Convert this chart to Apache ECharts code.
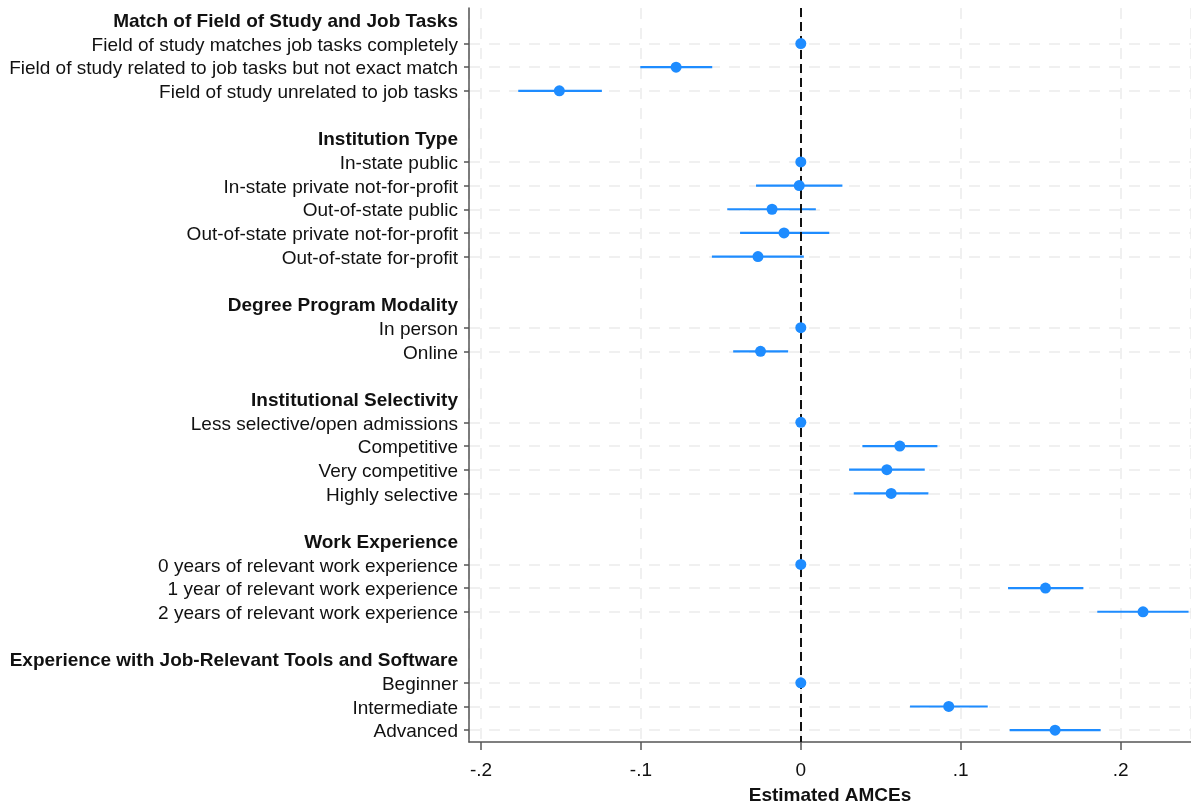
<!DOCTYPE html>
<html lang="en">
<head>
    <meta charset="UTF-8">
    <title>Estimated AMCEs</title>
    <script src="https://cdn.jsdelivr.net/npm/echarts@6/dist/echarts.min.js"></script>
    <style>
        html, body { margin: 0; padding: 0; background: #fff; }
    </style>
</head>
<body>
<div id="main" style="width: 1191px;height: 805px"></div>
<script>
    // rows top to bottom; '' rows are spacers between groups
    var categories = [
        'Match of Field of Study and Job Tasks',
        'Field of study matches job tasks completely',
        'Field of study related to job tasks but not exact match',
        'Field of study unrelated to job tasks',
        '',
        'Institution Type',
        'In-state public',
        'In-state private not-for-profit',
        'Out-of-state public',
        'Out-of-state private not-for-profit',
        'Out-of-state for-profit',
        '',
        'Degree Program Modality',
        'In person',
        'Online',
        '',
        'Institutional Selectivity',
        'Less selective/open admissions',
        'Competitive',
        'Very competitive',
        'Highly selective',
        '',
        'Work Experience',
        '0 years of relevant work experience',
        '1 year of relevant work experience',
        '2 years of relevant work experience',
        '',
        'Experience with Job-Relevant Tools and Software',
        'Beginner',
        'Intermediate',
        'Advanced'
    ];
    var headers = [
        'Match of Field of Study and Job Tasks',
        'Institution Type',
        'Degree Program Modality',
        'Institutional Selectivity',
        'Work Experience',
        'Experience with Job-Relevant Tools and Software'
    ];
    // point estimates and 95% CI, aligned with categories (null = no mark)
    var estimates = [
        null, 0, -0.078, -0.151,
        null,
        null, 0, -0.001, -0.018, -0.0105, -0.0268,
        null,
        null, 0, -0.0252,
        null,
        null, 0, 0.0619, 0.0538, 0.0565,
        null,
        null, 0, 0.153, 0.214,
        null,
        null, 0, 0.0925, 0.159
    ];
    var ciLow = [
        null, null, -0.1004, -0.1767,
        null,
        null, null, -0.028, -0.046, -0.038, -0.0556,
        null,
        null, null, -0.0423,
        null,
        null, null, 0.0385, 0.0302, 0.0331,
        null,
        null, null, 0.1296, 0.1854,
        null,
        null, null, 0.0683, 0.1306
    ];
    var ciHigh = [
        null, null, -0.0554, -0.1244,
        null,
        null, null, 0.026, 0.0094, 0.0178, 0.0019,
        null,
        null, null, -0.0079,
        null,
        null, null, 0.0854, 0.0775, 0.0798,
        null,
        null, null, 0.1767, 0.2425,
        null,
        null, null, 0.1169, 0.1875
    ];

    var pointData = [], barData = [];
    for (var i = 0; i < categories.length; i++) {
        if (estimates[i] !== null) pointData.push([estimates[i], i]);
        if (ciLow[i] !== null) barData.push([ciLow[i], ciHigh[i], i]);
    }
    function isItem(index) {
        var c = categories[index];
        return c !== '' && headers.indexOf(c) < 0;
    }

    var font = "'Liberation Sans', Arial, sans-serif";
    var blue = '#1e8cff';
    var gridLine = { color: '#ececec', width: 1.5, type: [11, 9] };

    var myChart = echarts.init(document.getElementById('main'));
    var option = {
        animation: false,
        textStyle: { fontFamily: font },
        grid: { left: 469, right: 0, top: 8, bottom: 63, containLabel: false, outerBoundsMode: 'none' },
        xAxis: {
            type: 'value',
            min: -0.2075,
            max: 0.244,
            splitNumber: 5,
            name: 'Estimated AMCEs',
            nameLocation: 'middle',
            nameGap: 44,
            nameTextStyle: { fontFamily: font, fontSize: 19, fontWeight: 'bold', color: '#111' },
            axisLine: { show: true, onZero: false, lineStyle: { color: '#555', width: 1.5 } },
            axisTick: { show: true, length: 8, lineStyle: { color: '#555', width: 1.5 } },
            axisLabel: {
                fontFamily: font, fontSize: 19, color: '#111', margin: 19,
                showMinLabel: false, showMaxLabel: false,
                formatter: function (v) {
                    var r = Math.round(v * 10) / 10;
                    if (Math.abs(v - r) > 1e-6) return '';
                    if (r === 0) return '0';
                    return r.toFixed(1).replace('0.', '.');
                }
            },
            splitLine: { show: true, lineStyle: gridLine }
        },
        yAxis: {
            type: 'category',
            inverse: true,
            boundaryGap: true,
            data: categories,
            axisLine: { show: true, onZero: false, lineStyle: { color: '#555', width: 1.5 } },
            axisTick: {
                show: true, alignWithLabel: true, length: 5,
                interval: function (index) { return isItem(index); },
                lineStyle: { color: '#555', width: 1.5 }
            },
            axisLabel: {
                interval: 0, margin: 11, padding: [4, 0, 0, 0],
                fontFamily: font, fontSize: 19, color: '#111',
                formatter: function (v) {
                    if (headers.indexOf(v) >= 0) return '{h|' + v + '}';
                    return v;
                },
                rich: { h: { fontFamily: font, fontSize: 19, fontWeight: 'bold', color: '#111' } }
            },
            splitLine: {
                show: true, alignWithLabel: true,
                interval: function (index) { return isItem(index); },
                lineStyle: gridLine
            }
        },
        series: [
            {
                type: 'custom',
                z: 2,
                data: barData,
                encode: { x: [0, 1], y: 2 },
                renderItem: function (params, api) {
                    var a = api.coord([api.value(0), api.value(2)]);
                    var b = api.coord([api.value(1), api.value(2)]);
                    return {
                        type: 'line',
                        shape: { x1: a[0], y1: a[1], x2: b[0], y2: b[1] },
                        style: { stroke: blue, lineWidth: 2.2 }
                    };
                }
            },
            {
                type: 'scatter',
                z: 4,
                symbol: 'circle',
                symbolSize: 11,
                itemStyle: { color: blue, opacity: 1 },
                data: pointData,
                markLine: {
                    z: 3,
                    silent: true,
                    symbol: 'none',
                    label: { show: false },
                    lineStyle: { color: '#111', width: 2, type: [9, 5] },
                    data: [{ xAxis: 0 }]
                }
            }
        ]
    };
    myChart.setOption(option);
</script>
</body>
</html>
